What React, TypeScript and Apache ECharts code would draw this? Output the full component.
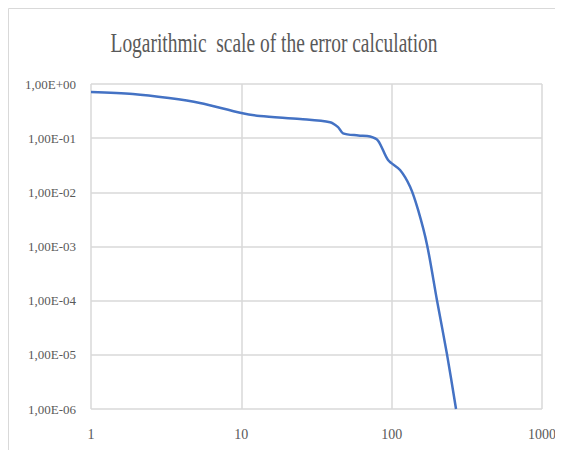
import React, { useEffect, useRef } from "react";
import * as echarts from "echarts";

const titleText = "Logarithmic  scale of the error calculation";
const xValues = [1, 1.9, 3.3, 5.3, 10, 13.3, 24.6, 38.9, 44, 47.5, 60, 71.8, 81.2, 94.6, 113.7, 132.6, 149.9, 172, 200, 233.7, 268];
const yValues = [0.71, 0.654, 0.55, 0.446, 0.292, 0.257, 0.226, 0.197, 0.16, 0.123, 0.112, 0.107, 0.09, 0.0396, 0.0259, 0.0127, 0.00473, 0.00107, 0.000103, 0.00001, 0.000001];
const xTicks = [1, 10, 100, 1000];
const yMin = 1e-6;
const yMax = 1;

const fmtY = (v: number) => {
  const e = Math.round(Math.log10(v));
  return `1,00E${e >= 0 ? "+" : "-"}${String(Math.abs(e)).padStart(2, "0")}`;
};

export default function App() {
  const ref = useRef<HTMLDivElement>(null);
  useEffect(() => {
    if (!ref.current) return;
    const chart = echarts.init(ref.current, undefined, { renderer: "svg" });
    const font = "'Liberation Serif', 'Times New Roman', serif";
    chart.setOption({
      animation: false,
      backgroundColor: "#ffffff",
      textStyle: { fontFamily: font },
      graphic: [
        {
          type: "rect",
          shape: { x: 0.5, y: 0.5, width: 600, height: 500 },
          style: { fill: "none", stroke: "#d9d9d9", lineWidth: 1 },
          silent: true,
        },
        {
          type: "text",
          x: 266,
          y: 21,
          scaleX: 0.72,
          style: {
            text: titleText,
            x: 0,
            y: 0,
            textAlign: "center",
            textVerticalAlign: "top",
            fontSize: 27,
            fontFamily: font,
            fill: "#595959",
          },
        },
      ],
      grid: { left: 83, top: 76, right: 21, bottom: 41, containLabel: false },
      xAxis: {
        type: "log",
        logBase: 10,
        min: xTicks[0],
        max: xTicks[xTicks.length - 1],
        axisLine: { show: false },
        axisTick: { show: false },
        splitLine: { show: true, lineStyle: { color: "#d9d9d9", width: 1.5 } },
        axisLabel: {
          color: "#595959",
          fontSize: 14,
          fontFamily: font,
          margin: 18,
          formatter: (v: number) => String(Math.round(v)),
        },
      },
      yAxis: {
        type: "log",
        logBase: 10,
        min: yMin,
        max: yMax,
        axisLine: { show: false },
        axisTick: { show: false },
        splitLine: { show: true, lineStyle: { color: "#d9d9d9", width: 1.5 } },
        axisLabel: {
          color: "#595959",
          fontSize: 13,
          fontFamily: font,
          margin: 15,
          formatter: fmtY,
        },
      },
      series: [
        {
          type: "line",
          data: xValues.map((x, i) => [x, yValues[i]]),
          smooth: 0.3,
          showSymbol: false,
          lineStyle: { color: "#4472C4", width: 2.5 },
        },
      ],
    });
    return () => chart.dispose();
  }, []);
  return <div ref={ref} style={{ width: 555, height: 442 }} />;
}
